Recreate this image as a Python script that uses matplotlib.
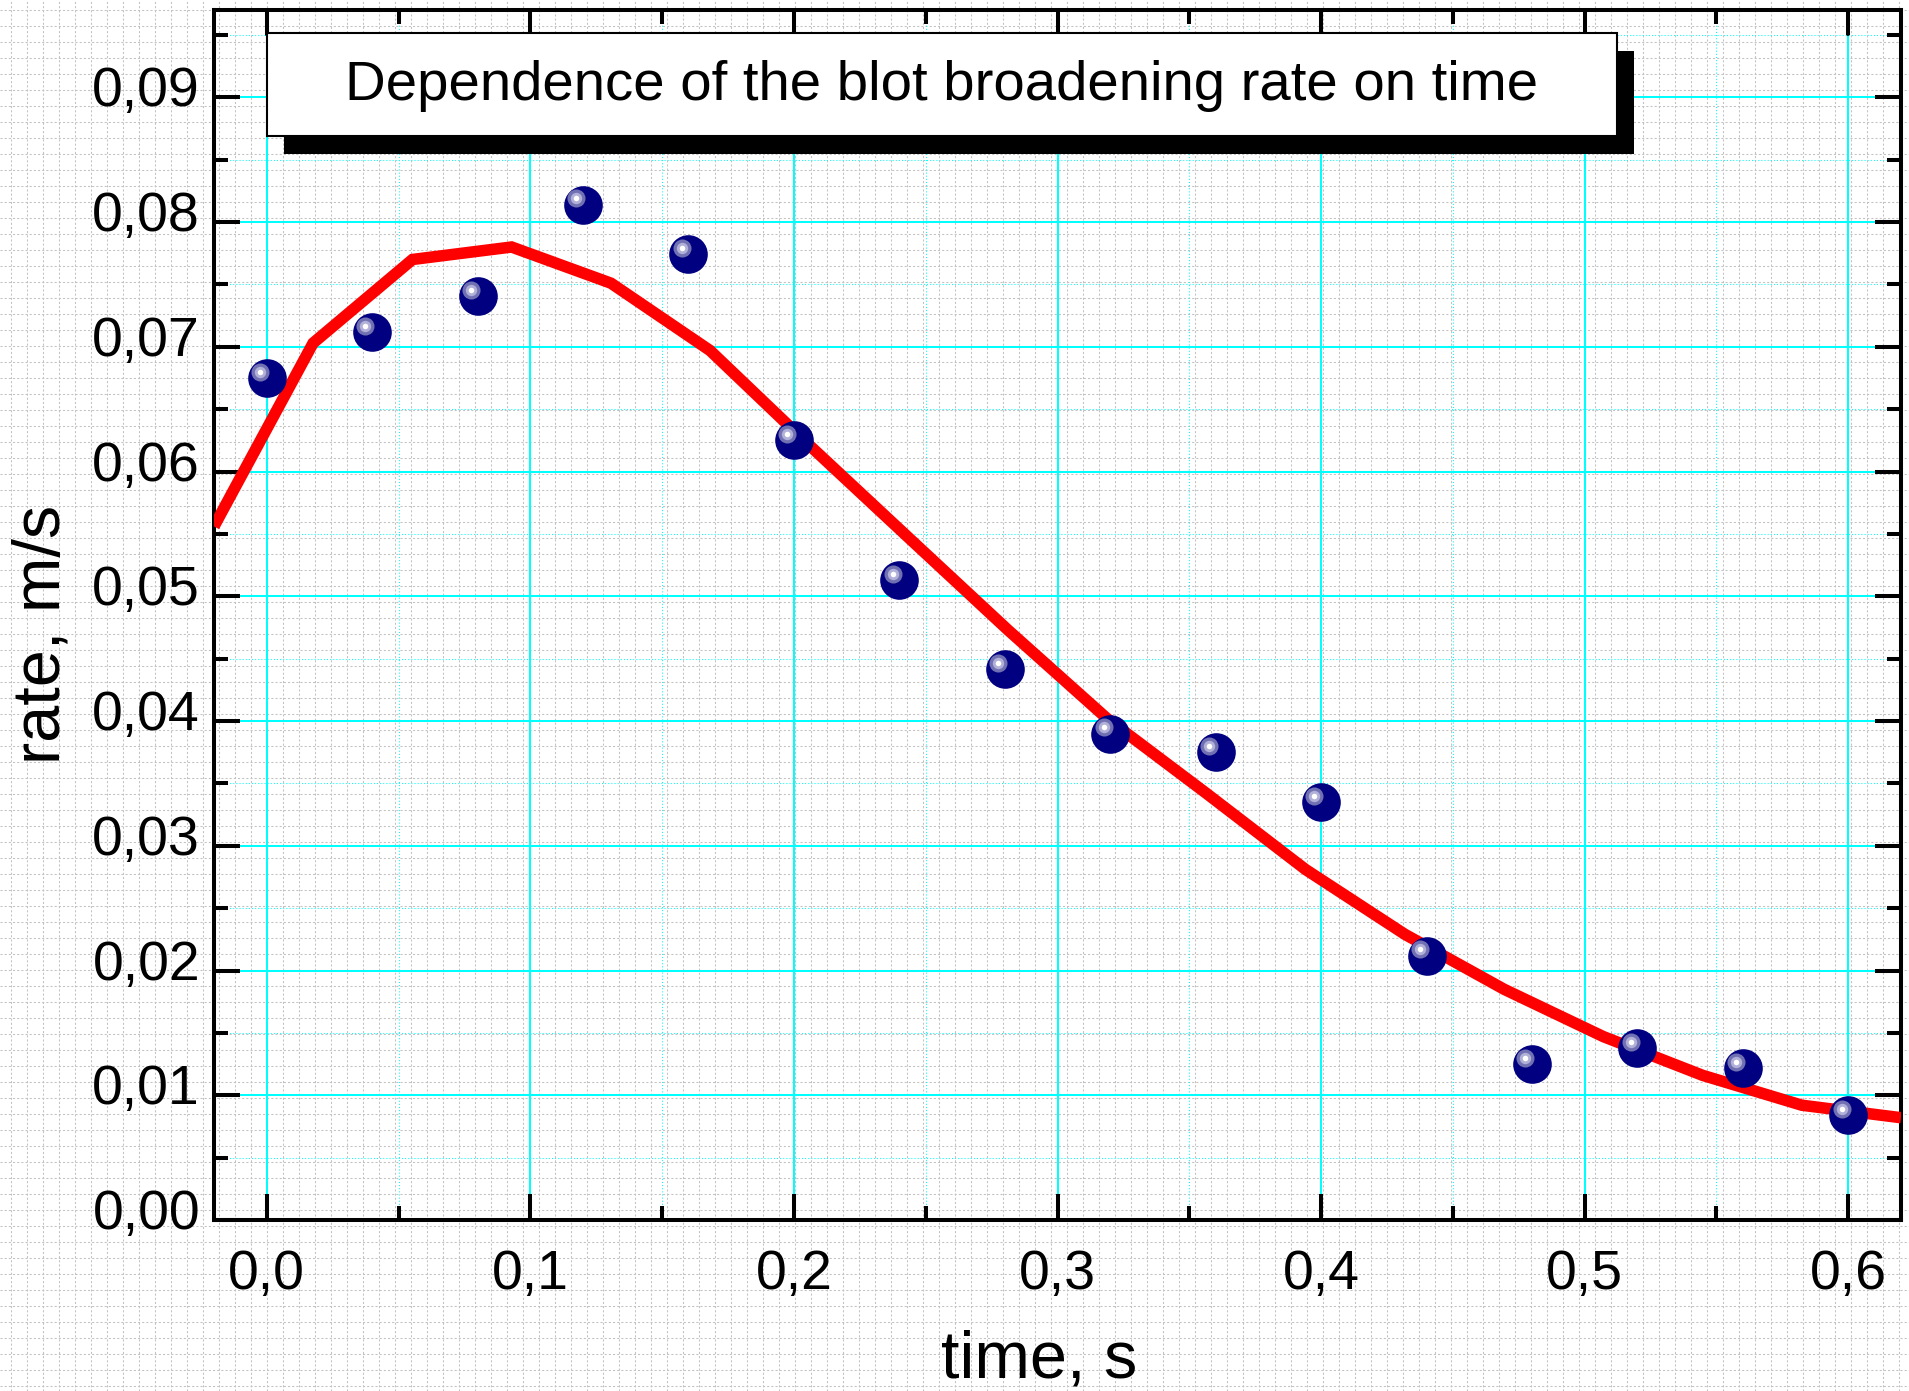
import numpy as np
import matplotlib
matplotlib.use("Agg")
import matplotlib.pyplot as plt
from matplotlib.ticker import MultipleLocator, FixedLocator, FixedFormatter
from matplotlib.patches import Rectangle
from matplotlib.transforms import ScaledTranslation, offset_copy

# ---------------- data ----------------
time_s = [0.00, 0.04, 0.08, 0.12, 0.16, 0.20, 0.24, 0.28,
          0.32, 0.36, 0.40, 0.44, 0.48, 0.52, 0.56, 0.60]
rate_ms = [0.0675, 0.0712, 0.0741, 0.0814, 0.0774, 0.0625, 0.0513, 0.0442,
           0.0390, 0.0375, 0.0335, 0.0212, 0.0125, 0.0138, 0.0122, 0.0084]

fit_time = [-0.0200, 0.0176, 0.0553, 0.0929, 0.1306, 0.1682, 0.2059, 0.2435, 0.2812,
            0.3188, 0.3565, 0.3941, 0.4318, 0.4694, 0.5071, 0.5447, 0.5824, 0.6200]
fit_rate = [0.0556, 0.0703, 0.0770, 0.0780, 0.0751, 0.0697, 0.0621, 0.0547, 0.0473,
            0.0402, 0.0342, 0.0281, 0.0229, 0.0185, 0.0147, 0.0116, 0.0092, 0.0082]

x_ticks = [0.0, 0.1, 0.2, 0.3, 0.4, 0.5, 0.6]
x_tick_labels = ["0,0", "0,1", "0,2", "0,3", "0,4", "0,5", "0,6"]
y_ticks = [0.00, 0.01, 0.02, 0.03, 0.04, 0.05, 0.06, 0.07, 0.08, 0.09]
y_tick_labels = ["0,00", "0,01", "0,02", "0,03", "0,04", "0,05", "0,06", "0,07", "0,08", "0,09"]

title = "Dependence of the blot broadening rate on time"
x_label = "time, s"
y_label = "rate, m/s"

# ---------------- figure ----------------
W, H, DPI = 1909, 1391, 100
plt.rcParams['font.family'] = ['Liberation Sans', 'DejaVu Sans']
fig = plt.figure(figsize=(W / DPI, H / DPI), dpi=DPI)
fig.patch.set_facecolor('white')

# page background: fine gray dashed grid
bg = fig.add_axes([0, 0, 1, 1], zorder=0)
bg.set_xlim(0, W)
bg.set_ylim(H, 0)
bg.set_xticks(np.arange(11.3, W, 16.0))
bg.set_yticks(np.arange(10.0, H, 16.0))
bg.grid(True, color='#c2c2c2', lw=0.75, linestyle=(0, (2, 2)))
bg.tick_params(length=0, labelbottom=False, labelleft=False)
for s in bg.spines.values():
    s.set_visible(False)
bg.set_facecolor('white')

# main axes
L, R, T, B = 214, 1901, 10, 1220
ax = fig.add_axes([L / W, 1 - B / H, (R - L) / W, (B - T) / H], zorder=1)
ax.set_facecolor('none')
ax.set_xlim(-0.02, 0.62)
ax.set_ylim(0, 0.097)

ax.xaxis.set_major_locator(FixedLocator(x_ticks))
ax.xaxis.set_major_formatter(FixedFormatter(x_tick_labels))
ax.xaxis.set_minor_locator(MultipleLocator(0.05))
ax.yaxis.set_major_locator(FixedLocator(y_ticks))
ax.yaxis.set_major_formatter(FixedFormatter(y_tick_labels))
ax.yaxis.set_minor_locator(MultipleLocator(0.005))

ax.set_axisbelow(True)
ax.grid(which='major', color='#00ffff', lw=1.45, ls='-')
ax.grid(which='minor', color='#00ffff', lw=0.75, ls=(0, (1, 2)))

ax.tick_params(which='both', direction='in', top=True, right=True,
               width=2.9, color='black', labelsize=40, labelcolor='black')
ax.tick_params(which='major', length=18.5)
ax.tick_params(which='minor', length=10)
ax.tick_params(axis='x', which='major', pad=21)
ax.tick_params(axis='y', which='major', pad=10)
for s in ax.spines.values():
    s.set_linewidth(2.9)
    s.set_color('black')

# fitted curve
ax.plot(fit_time, fit_rate, color='#ff0000', lw=8.3, solid_joinstyle='miter',
        solid_capstyle='butt', zorder=3)

# data points: navy spheres with highlights
ax.scatter(time_s, rate_ms, s=27.8 ** 2, c='#000080', linewidths=0, zorder=4)
hl = offset_copy(ax.transData, fig=fig, x=-4.8, y=4.4, units='points')
ax.scatter(time_s, rate_ms, s=13.0 ** 2, c='#7070b2', linewidths=0, zorder=5, transform=hl)
ax.scatter(time_s, rate_ms, s=8.2 ** 2, c='#b0b0d8', linewidths=0, zorder=6, transform=hl)
ax.scatter(time_s, rate_ms, s=4.0 ** 2, c='#ffffff', linewidths=0, zorder=7, transform=hl)

# axis labels
ax.set_xlabel(x_label, fontsize=48)
ax.xaxis.set_label_coords(0.489, -0.1298)
ax.xaxis.label.set_va('baseline')
ax.set_ylabel(y_label, fontsize=48)
ax.yaxis.set_label_coords(-0.0913, 0.484)
ax.yaxis.label.set_va('baseline')

# shift y tick labels up (digits sit above the tick)
for lbl in ax.get_yticklabels():
    lbl.set_transform(lbl.get_transform() + ScaledTranslation(0, 0.11, fig.dpi_scale_trans))

# title box with drop shadow
bx0, by0, bx1, by1 = 267, 33, 1617, 136
dx, dy = 17, 18
shadow = Rectangle(((bx0 + dx) / W, 1 - (by1 + dy) / H), (bx1 - bx0) / W, (by1 - by0) / H,
                   transform=fig.transFigure, facecolor='black', edgecolor='black', lw=0, zorder=5)
box = Rectangle((bx0 / W, 1 - by1 / H), (bx1 - bx0) / W, (by1 - by0) / H,
                transform=fig.transFigure, facecolor='white', edgecolor='black', lw=1.5, zorder=6)
fig.patches.extend([shadow, box])
fig.text((bx0 + bx1) / 2 / W, 1 - (by0 + by1) / 2 / H - 0.001, title, ha='center', va='center',
         fontsize=40.6, color='black', zorder=7)

fig.savefig('out.png', dpi=DPI, facecolor='white')
